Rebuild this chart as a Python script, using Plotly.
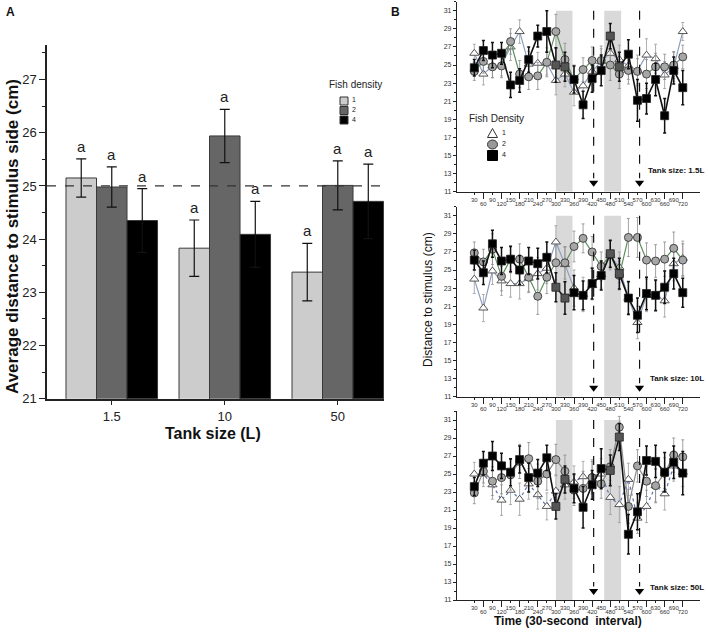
import plotly.graph_objects as go

W, H = 708, 632
FONT = "Liberation Sans, Arial, sans-serif"

# ---------------- Panel A data ----------------
TANK_SIZES = ["1.5", "10", "50"]
DENSITY_LABELS = ["1", "2", "4"]
MEAN_D1 = [25.15, 23.83, 23.38]
ERR_D1 = [0.36, 0.53, 0.54]
MEAN_D2 = [24.98, 25.94, 25.01]
ERR_D2 = [0.38, 0.50, 0.46]
MEAN_D4 = [24.35, 24.09, 24.71]
ERR_D4 = [0.60, 0.62, 0.70]
SIG_LETTERS = ["a", "a", "a"]
REFERENCE_LINE = 25

# ---------------- Panel B data ----------------
TIMES = [30, 60, 90, 120, 150, 180, 210, 240, 270, 300, 330, 360,
         390, 420, 450, 480, 510, 540, 570, 600, 630, 660, 690, 720]
TIME_LABELS = [str(t) for t in TIMES]
PANEL_TITLES = ["Tank size: 1.5L", "Tank size: 10L", "Tank size: 50L"]

# Tank 1.5 L
T15_D1 = [26.3, 24.0, 24.9, 25.0, 27.0, 28.7, 25.1, 25.2, 25.2, 23.3, 24.0, 22.0,
          22.7, 24.3, 25.4, 26.3, 25.6, 24.9, 24.4, 26.1, 25.7, 23.9, 24.8, 28.7]
T15_D1_ERR = [1.0, 1.2, 1.3, 1.2, 1.5, 1.3, 1.4, 1.2, 1.3, 1.6, 1.4, 1.5,
              1.6, 1.5, 1.4, 1.5, 1.6, 1.5, 1.7, 1.8, 1.6, 1.5, 1.6, 1.0]
T15_D2 = [24.3, 25.4, 24.8, 24.9, 27.6, 24.0, 23.7, 23.8, 25.3, 28.7, 25.6, 23.4,
          24.5, 25.5, 25.5, 25.0, 24.0, 24.4, 24.3, 24.0, 24.8, 24.8, 25.0, 25.9]
T15_D2_ERR = [1.0, 1.3, 1.2, 1.3, 1.4, 1.5, 1.4, 1.5, 1.6, 1.9, 1.8, 1.6,
              1.3, 1.5, 1.6, 1.7, 1.6, 1.5, 1.4, 1.6, 1.5, 1.4, 1.5, 1.3]
T15_D4 = [24.7, 26.6, 26.1, 26.3, 22.8, 23.3, 25.6, 28.2, 28.7, 25.0, 24.8, 23.4,
          20.6, 23.5, 24.4, 28.2, 24.8, 26.2, 21.1, 21.3, 23.4, 19.4, 24.4, 22.5]
T15_D4_ERR = [0.9, 1.1, 1.4, 1.2, 1.4, 1.3, 1.4, 1.2, 2.3, 1.9, 1.6, 1.5,
              1.5, 1.5, 1.7, 1.4, 1.6, 1.6, 2.3, 1.7, 1.8, 1.9, 1.5, 1.9]

# Tank 10 L
T10_D1 = [24.0, 20.8, 24.9, 23.8, 23.5, 23.5, 24.1, 24.6, 25.2, 28.1, 25.6, 23.0,
          22.3, 23.3, 24.5, 26.6, 25.3, 21.9, 19.2, 22.2, 22.2, 21.6, 25.7, 26.3]
T10_D1_ERR = [1.6, 1.5, 1.5, 1.6, 1.5, 1.7, 1.6, 1.8, 1.7, 1.8, 1.9, 2.0,
              1.9, 1.6, 1.5, 1.6, 1.7, 1.9, 1.8, 1.8, 1.6, 1.8, 1.9, 1.9]
T10_D2 = [26.9, 25.9, 27.3, 24.3, 26.2, 26.2, 24.2, 22.1, 24.2, 25.8, 25.8, 27.6,
          28.5, 27.0, 25.4, 26.7, 24.4, 28.6, 28.6, 26.1, 26.0, 26.2, 27.4, 26.1]
T10_D2_ERR = [1.2, 1.4, 1.7, 1.6, 1.5, 1.7, 1.6, 2.0, 1.8, 1.9, 1.8, 1.7,
              1.6, 1.7, 1.6, 1.5, 1.6, 2.1, 2.2, 1.9, 1.8, 1.9, 1.8, 1.8]
T10_D4 = [26.1, 24.7, 27.9, 26.0, 26.2, 25.0, 26.0, 25.7, 26.4, 23.1, 21.9, 22.5,
          22.2, 23.5, 24.4, 26.8, 24.6, 21.9, 20.0, 22.4, 22.2, 23.1, 24.6, 22.5]
T10_D4_ERR = [1.1, 1.3, 1.5, 1.5, 1.4, 1.6, 1.5, 1.7, 1.7, 1.6, 1.8, 1.9,
              1.6, 1.7, 1.6, 1.5, 1.7, 1.8, 1.9, 1.8, 1.7, 1.8, 1.7, 1.6]

# Tank 50 L
T50_D1 = [25.0, 25.0, 23.8, 22.1, 23.2, 22.2, 23.9, 22.7, 21.4, 23.1, 23.8, 24.1,
          24.7, 24.8, 25.0, 22.4, 21.6, 24.4, 20.1, 21.4, 23.7, 22.8, 25.9, 25.2]
T50_D1_ERR = [1.3, 1.4, 1.6, 1.7, 1.6, 1.8, 1.7, 1.6, 1.5, 1.7, 1.6, 1.8,
              1.7, 1.8, 1.7, 1.9, 2.0, 1.8, 1.7, 1.8, 1.9, 1.8, 1.7, 1.6]
T50_D2 = [22.9, 25.3, 24.2, 24.6, 24.9, 26.4, 26.7, 24.2, 25.0, 26.6, 25.3, 23.2,
          23.4, 24.6, 23.9, 25.8, 30.2, 21.4, 25.9, 24.2, 23.7, 25.1, 27.1, 26.9]
T50_D2_ERR = [1.2, 1.3, 1.6, 1.8, 1.7, 1.9, 1.8, 1.9, 1.8, 1.7, 1.8, 1.7,
              1.9, 1.8, 1.6, 1.9, 1.2, 1.9, 1.8, 1.7, 1.8, 1.7, 1.9, 1.9]
T50_D4 = [23.6, 26.2, 27.0, 25.9, 25.2, 26.6, 24.6, 25.1, 26.8, 21.4, 24.4, 23.4,
          21.3, 23.8, 25.6, 25.4, 29.1, 18.3, 20.8, 26.5, 26.4, 25.2, 26.3, 25.1]
T50_D4_ERR = [1.0, 1.3, 1.6, 1.4, 1.5, 1.5, 1.6, 1.5, 1.4, 1.4, 1.5, 1.6,
              2.3, 1.6, 2.2, 1.7, 1.5, 2.2, 2.0, 1.6, 1.8, 2.2, 1.8, 2.4]

SHADE_WINDOWS = [(300, 355), (460, 516)]
ARROW_TIMES = [425, 577]

# ---------------- helpers (layout only) ----------------
def fx(px):
    return px / W

def fy(py):
    return 1 - py / H

fig = go.Figure()

# ---------------- Panel A ----------------
bar_colors = ["#cccccc", "#666666", "#000000"]
means = [MEAN_D1, MEAN_D2, MEAN_D4]
errs = [ERR_D1, ERR_D2, ERR_D4]
for j in range(3):
    fig.add_trace(go.Bar(
        x=TANK_SIZES, y=means[j], name=DENSITY_LABELS[j], showlegend=False,
        marker=dict(color=bar_colors[j], line=dict(color="#3a3a3a", width=1)),
        error_y=dict(type="data", array=errs[j], color="#111111", thickness=1.2, width=5),
        xaxis="x", yaxis="y",
    ))

annotations = []
for j in range(3):
    for i in range(3):
        annotations.append(dict(
            x=i, y=means[j][i] + errs[j][i], xref="x", yref="y",
            xshift=(j - 1) * 30.5, yshift=2, yanchor="bottom", xanchor="center",
            showarrow=False, text=SIG_LETTERS[i],
            font=dict(family=FONT, size=15, color="#222222")))

shapes = [dict(type="line", xref="x domain", yref="y", x0=0, x1=1,
               y0=REFERENCE_LINE, y1=REFERENCE_LINE,
               line=dict(color="#333333", width=1.3, dash="dash"))]

# Panel A legend (drawn)
annotations.append(dict(text="Fish density", x=fx(327), y=fy(84), xref="paper", yref="paper",
                        xanchor="left", yanchor="middle", showarrow=False,
                        font=dict(size=10, color="#222222")))
leg_a_y = [101, 110.5, 120]
for j in range(3):
    yc = leg_a_y[j]
    shapes.append(dict(type="rect", xref="paper", yref="paper",
                       x0=fx(340), x1=fx(348), y0=fy(yc + 4), y1=fy(yc - 4),
                       fillcolor=bar_colors[j], line=dict(color="#333333", width=1)))
    annotations.append(dict(text=DENSITY_LABELS[j], x=fx(350), y=fy(yc - 1), xref="paper",
                            yref="paper", xanchor="left", yanchor="middle",
                            showarrow=False, font=dict(size=7, color="#222222")))

# ---------------- Panel B ----------------
panels = [
    (T15_D1, T15_D1_ERR, T15_D2, T15_D2_ERR, T15_D4, T15_D4_ERR),
    (T10_D1, T10_D1_ERR, T10_D2, T10_D2_ERR, T10_D4, T10_D4_ERR),
    (T50_D1, T50_D1_ERR, T50_D2, T50_D2_ERR, T50_D4, T50_D4_ERR),
]
tri_line = ["#8d9fc0", "#8d9fc0", "#5a72b0"]
tri_dash = ["solid", "solid", "dot"]
circ_line = ["#5f8f5f", "#5f8f5f", "#8a8a8a"]

def in_shade(t):
    return any(a <= t <= b for a, b in SHADE_WINDOWS)

sq_colors = ["#555555" if in_shade(t) else "#000000" for t in TIMES]

for k, (d1, e1, d2, e2, d4, e4) in enumerate(panels):
    xa = "x%d" % (k + 2)
    ya = "y%d" % (k + 2)
    fig.add_trace(go.Scatter(
        x=TIMES, y=d1, mode="lines+markers", showlegend=False, name="1",
        line=dict(color=tri_line[k], width=1.2, dash=tri_dash[k]),
        marker=dict(symbol="triangle-up", size=8, color="white",
                    line=dict(color="#555555", width=1)),
        error_y=dict(type="data", array=e1, color="#9a9a9a", thickness=0.8, width=1.5),
        xaxis=xa, yaxis=ya))
    fig.add_trace(go.Scatter(
        x=TIMES, y=d2, mode="lines+markers", showlegend=False, name="2",
        line=dict(color=circ_line[k], width=1.2),
        marker=dict(symbol="circle", size=8, color="#a6a6a6",
                    line=dict(color="#444444", width=1)),
        error_y=dict(type="data", array=e2, color="#8a8a8a", thickness=0.8, width=1.5),
        xaxis=xa, yaxis=ya))
    fig.add_trace(go.Scatter(
        x=TIMES, y=d4, mode="lines+markers", showlegend=False, name="4",
        line=dict(color="#111111", width=1.6),
        marker=dict(symbol="square", size=8, color=sq_colors,
                    line=dict(color="#222222", width=0.8)),
        error_y=dict(type="data", array=e4, color="#111111", thickness=1.5, width=1.5),
        xaxis=xa, yaxis=ya))
    # arrow heads
    fig.add_trace(go.Scatter(
        x=ARROW_TIMES, y=[12.0, 12.0], mode="markers", showlegend=False, hoverinfo="skip",
        marker=dict(symbol="triangle-down", size=8, color="black"),
        xaxis=xa, yaxis=ya))
    # placeholder trace so the second-row label axis is drawn
    fig.add_trace(go.Scatter(x=[None], y=[None], mode="markers", showlegend=False,
                             hoverinfo="skip", xaxis="x%d" % (k + 5), yaxis=ya))
    for (a, b) in SHADE_WINDOWS:
        shapes.append(dict(type="rect", xref=xa, yref=ya, x0=a, x1=b, y0=11, y1=31,
                           fillcolor="#d9d9d9", line=dict(width=0), layer="below"))
    for t in ARROW_TIMES:
        shapes.append(dict(type="line", xref=xa, yref=ya, x0=t, x1=t, y0=31, y1=12.5,
                           line=dict(color="#111111", width=1.2, dash="dash")))

# Panel B legend (drawn)
annotations.append(dict(text="Fish Density", x=fx(467), y=fy(118), xref="paper", yref="paper",
                        xanchor="left", yanchor="middle", showarrow=False,
                        font=dict(size=10, color="#222222")))
lx0, lx1, lxc = 487.5, 497.5, 492.5
ty = 133
shapes.append(dict(type="path", xref="paper", yref="paper",
                   path="M %f,%f L %f,%f L %f,%f Z" % (fx(lx0), fy(ty + 4.5), fx(lx1), fy(ty + 4.5),
                                                       fx(lxc), fy(ty - 4.5)),
                   fillcolor="white", line=dict(color="#333333", width=1)))
cy = 144.5
shapes.append(dict(type="circle", xref="paper", yref="paper",
                   x0=fx(lx0), x1=fx(lx1), y0=fy(cy + 4.5), y1=fy(cy - 4.5),
                   fillcolor="#999999", line=dict(color="#333333", width=1)))
sy = 155.5
shapes.append(dict(type="rect", xref="paper", yref="paper",
                   x0=fx(lx0), x1=fx(lx1), y0=fy(sy + 5), y1=fy(sy - 5),
                   fillcolor="#000000", line=dict(color="#000000", width=1)))
for lab, yy in zip(DENSITY_LABELS, [ty - 1, cy - 1, sy - 1]):
    annotations.append(dict(text=lab, x=fx(500), y=fy(yy), xref="paper", yref="paper",
                            xanchor="left", yanchor="middle", showarrow=False,
                            font=dict(size=7, color="#222222")))

# ---------------- Layout ----------------
axis_line = dict(showline=True, linecolor="#222222", showgrid=False, zeroline=False,
                 ticks="outside", tickcolor="#222222", automargin=False)

layout = dict(
    template="none",
    width=W, height=H, margin=dict(l=0, r=0, t=0, b=0, pad=0, autoexpand=False),
    paper_bgcolor="white", plot_bgcolor="rgba(0,0,0,0)",
    font=dict(family=FONT, color="#111111"),
    barmode="group", bargap=0.19, bargroupgap=0, showlegend=False,
    xaxis=dict(domain=[fx(47), fx(384)], range=[-0.573, 2.409], type="category",
               anchor="y", linewidth=1.5, ticklen=5, tickfont=dict(size=13, color="#222222"),
               **axis_line),
    yaxis=dict(domain=[fy(398.7), fy(45)], range=[21, 27.65], anchor="x",
               tick0=21, dtick=1, linewidth=1.5, ticklen=6,
               tickfont=dict(size=13, color="#222222"),
               minor=dict(dtick=0.5, ticks="outside", ticklen=3, tickcolor="#222222"),
               **axis_line),
)

b_tops = [1.7, 206.7, 411.0]
b_bots = [191.7, 396.7, 600.0]
B_XDOMAIN = [fx(457), fx(700)]
B_XRANGE = [-27.3, 777]
for k in range(3):
    n = k + 2
    layout["xaxis%d" % n] = dict(domain=B_XDOMAIN, range=B_XRANGE,
                                 anchor="y%d" % n, tickvals=TIMES[0::2],
                                 ticktext=TIME_LABELS[0::2],
                                 tickangle=0, linewidth=1.2, ticklen=2,
                                 tickfont=dict(size=6, color="#333333"), **axis_line)
    layout["xaxis%d" % (k + 5)] = dict(domain=B_XDOMAIN, range=B_XRANGE, overlaying="x%d" % n,
                                       anchor="y%d" % n, side="bottom",
                                       tickvals=TIMES[1::2], ticktext=TIME_LABELS[1::2],
                                       tickangle=0, showline=False, showgrid=False,
                                       zeroline=False, ticks="outside", ticklen=6,
                                       tickcolor="#222222", tickwidth=0.8, automargin=False,
                                       tickfont=dict(size=6, color="#333333"))
    layout["yaxis%d" % n] = dict(domain=[fy(b_bots[k]), fy(b_tops[k])], range=[11, 32],
                                 anchor="x%d" % n, tick0=11, dtick=2, linewidth=1.2,
                                 ticklen=3, tickfont=dict(size=7, color="#333333"),
                                 minor=dict(dtick=1, ticks="outside", ticklen=2,
                                            tickcolor="#222222"),
                                 **axis_line)

# Text annotations
annotations += [
    dict(text="<b>A</b>", x=fx(4), y=fy(3), xref="paper", yref="paper", xanchor="left",
         yanchor="top", showarrow=False, font=dict(size=12, color="#111111")),
    dict(text="<b>B</b>", x=fx(389), y=fy(3), xref="paper", yref="paper", xanchor="left",
         yanchor="top", showarrow=False, font=dict(size=12, color="#111111")),
    dict(text="<b>Average distance to stimulus side (cm)</b>", x=fx(12), y=fy(237),
         xref="paper", yref="paper", textangle=-90, showarrow=False,
         xanchor="center", yanchor="middle", font=dict(size=17, color="#111111")),
    dict(text="<b>Tank size (L)</b>", x=fx(213), y=fy(433), xref="paper", yref="paper",
         xanchor="center", yanchor="middle",
         showarrow=False, font=dict(size=16, color="#111111")),
    dict(text="Distance to stimulus (cm)", x=fx(428), y=fy(300), xref="paper",
         yref="paper", textangle=-90, showarrow=False, xanchor="center", yanchor="middle",
         font=dict(size=12, color="#111111")),
    dict(text="<b>Time (30-second  interval)</b>", x=fx(568), y=fy(621), xref="paper",
         yref="paper", showarrow=False, xanchor="center", yanchor="middle",
         font=dict(size=12, color="#111111")),
]
title_ys = [170, 378, 587]
for k in range(3):
    annotations.append(dict(text="<b>%s</b>" % PANEL_TITLES[k], x=fx(706), y=fy(title_ys[k]),
                            xref="paper", yref="paper", xanchor="right", yanchor="middle",
                            showarrow=False, font=dict(size=8, color="#111111")))

layout["annotations"] = annotations
layout["shapes"] = shapes
fig.update_layout(**layout)

fig.write_html("out.html", config={"displayModeBar": False},
               post_script="document.body.style.margin='0';")
